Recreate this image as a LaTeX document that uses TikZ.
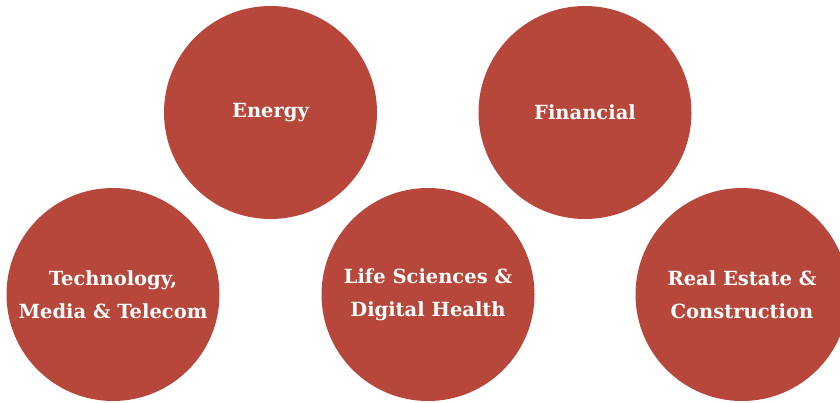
\documentclass[tikz,border=0pt]{standalone}
\usepackage{fontspec}
\setmainfont{DejaVu Serif}
\usepackage{tikz}

\definecolor{brick}{RGB}{182,71,58}

\tikzset{
  sector/.style={circle, fill=brick, minimum size=213pt, inner sep=0pt,
    text=white, align=center, font=\bfseries\fontsize{19.5}{33}\selectfont}
}

\begin{document}
\begin{tikzpicture}[x=1pt,y=-1pt]
\useasboundingbox (0,0) rectangle (840,402);
\node [sector] (energy) at (270.5,112.5) {Energy};
\node [sector] (financial) at (585,112.5) {Financial};
\node [sector] (tmt) at (113,294.5) {Technology,\\Media \& Telecom};
\node [sector] (life) at (428,294.5) {Life Sciences \&\\Digital Health};
\node [sector] (realestate) at (742,294.5) {Real Estate \&\\Construction};
\end{tikzpicture}
\end{document}
